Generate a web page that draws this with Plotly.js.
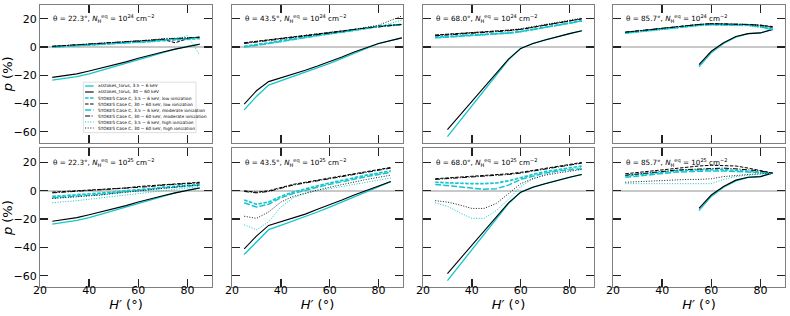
<!DOCTYPE html>
<html>
<head>
<meta charset="utf-8">
<script src="https://cdn.plot.ly/plotly-3.0.1.min.js"></script>
<style>html,body{margin:0;padding:0;background:#fff}#chart{width:790px;height:316px}</style>
</head>
<body>
<div id="chart"></div>
<script>
// ---------------- DATA ----------------
const H = [25,30,35,40,45,50,55,60,65,70,75,80,85];
const H_b = [25,30,35,40,45,50,55,60,65,70,75,80,89.5];
const H30 = [30,35,40,45,50,55,60,65,70,75,80,85];
const H55 = [55,60,65,70,75,80,85];

const seriesNames = [
  "xsstokes_torus, 3.5 − 6 keV",
  "xsstokes_torus, 30 − 60 keV",
  "STOKES Case C, 3.5 − 6 keV, low ionization",
  "STOKES Case C, 30 − 60 keV, low ionization",
  "STOKES Case C, 3.5 − 6 keV, moderate ionization",
  "STOKES Case C, 30 − 60 keV, moderate ionization",
  "STOKES Case C, 3.5 − 6 keV, high ionization",
  "STOKES Case C, 30 − 60 keV, high ionization"
];
const thetas = ["22.3", "43.5", "68.0", "85.7", "22.3", "43.5", "68.0", "85.7"];
const columnDensityExp = ["24", "24", "24", "24", "25", "25", "25", "25"];
const xTicks = [20, 40, 60, 80];
const yTicks = [-60, -40, -20, 0, 20];

// Panel A: theta 22.3, 1e24
const a_xsSoft = [-23.5,-22.5,-21,-19,-16.5,-14,-11,-8.5,-6,-3.5,-1.5,0.5,2];
const a_xsHard = [-21.5,-20.5,-19,-17,-15,-12.5,-10.5,-8,-5.5,-3.5,-1.5,0.5,2];
const a_lowSoft = [0,0.5,1,1.5,2,2.5,3,3,3.5,4.5,5,5.5,6];
const a_lowHard = [0.5,1,1.5,2,2.5,3,3.5,3.5,4.5,5.5,3,6,7];
const a_modSoft = [0,0.5,1,1.5,2,2.5,3,3,4,5,5.5,6,6.5];
const a_modHard = [0.5,1,1.5,2,2.5,3,3.5,4,4.5,5.5,6,6.5,7];
const a_highSoft = [-0.5,0.5,1,1.5,2,2.5,3,3,4,5,5.5,8,-5.5];
const a_highHard = [0.5,1,1.5,2,2.5,3,3.5,4,5,6,6,6.5,7];

// Panel B: theta 43.5, 1e24
const b_xsSoft = [-44.5,-35,-27,-24,-21,-18,-14.5,-11.5,-8,-4.5,-1,2.5,6.5];
const b_xsHard = [-40.5,-31,-24.5,-22,-19.5,-16.5,-13.5,-10.5,-7,-3.5,-0.5,2.5,6.5];
const b_lowSoft = [0.5,1.5,3,4.5,6,7,8.5,9.5,11,12,13.5,14.5,16];
const b_lowHard = [3,4,5,6,7,8,9,10,11.5,12.5,13.5,15,16];
const b_modSoft = [0,1,2.5,4,5.5,7,8,9.5,10.5,12,13,14.5,16];
const b_modHard = [2.5,3.5,4.5,5.5,7,8,9,10,11,12.5,13.5,14.5,16];
const b_highSoft = [0,1,2,3.5,5,6.5,8,9,10.5,11.5,13,14.5,19];
const b_highHard = [3,4,5,6,7,8,9,10,11.5,12.5,14,15.5,22];

// Panel C: theta 68.0, 1e24
const c_xsSoft = [-63.5,-52.5,-41.5,-30.5,-19.5,-9,-1,2.5,5,7.5,9.5,11.5];
const c_xsHard = [-58.5,-48.5,-38.5,-28.5,-18.5,-8.5,-1,2.5,5,7.5,9.5,11.5];
const c_lowSoft = [7,7.5,7.5,8,8.5,9.5,10,11,12.5,14,15.5,17.5,18.5];
const c_lowHard = [8.5,9,9.5,10,10.5,11,11.5,12.5,14,15.5,17,19,20];
const c_modSoft = [6.5,7,7.5,8,8.5,9,10,11,12.5,14,15.5,17,18.5];
const c_modHard = [8,8.5,9,9.5,10,11,11.5,12.5,14,15.5,17,18.5,20];
const c_highSoft = [6.5,7,7,7.5,8,9,9.5,10.5,12,13.5,15,17,19];
const c_highHard = [8.5,9,9.5,10,10.5,11,12,13,14.5,16,17.5,19.5,20.5];

// Panel D: theta 85.7, 1e24
const d_xsSoft = [-14,-4,2.5,7,9.5,10,12.5];
const d_xsHard = [-12.5,-3,3,7.5,9.5,10,12.5];
const d_lowSoft = [10,11,12,13,14,15,15.5,16,16,16,15.5,14.5,12.5];
const d_lowHard = [10.5,11.5,12.5,13.5,14.5,15.5,16,16.5,16.5,16.5,16,15.5,14.5];
const d_modSoft = [10,11,12,13,14,14.5,15.5,16,16,16,15.5,14.5,12.5];
const d_modHard = [10.5,11.5,12.5,13.5,14.5,15.5,16,16.5,16.5,16.5,16,15.5,14];
const d_highSoft = [9.5,10.5,11.5,12.5,13.5,14.5,15,15.5,15.5,15.5,15,14,12];
const d_highHard = [10.5,11.5,12.5,13.5,14.5,15,16,16.5,16.5,16.5,16,15,14];

// Panel E: theta 22.3, 1e25
const e_xsSoft = [-23.5,-22.5,-21,-19,-16.5,-14,-11,-8.5,-6,-3.5,-1.5,0.5,2];
const e_xsHard = [-21.5,-20.5,-19,-17,-15,-12.5,-10.5,-8,-5.5,-3.5,-1.5,0.5,2];
const e_lowSoft = [-4,-3.5,-3,-2.5,-1.5,-1,0,0.5,1.5,2.5,3,4,4.5];
const e_lowHard = [-1,-0.5,0,0.5,1,1.5,2,3,3.5,4.5,5,5.5,6];
const e_modSoft = [-5,-4.5,-4,-3,-2.5,-1.5,-0.5,0,1,2,2.5,3.5,4];
const e_modHard = [-1.5,-1,-0.5,0,0.5,1,1.5,2.5,3,4,4.5,5,5.5];
const e_highSoft = [-8.5,-8,-7,-6,-5,-4,-3,-2,-1,0.5,1.5,2.5,3];
const e_highHard = [-5.5,-5,-4.5,-3.5,-3,-2,-1,0,1,2,2.5,3.5,4];

// Panel F: theta 43.5, 1e25
const f_xsSoft = [-45,-36,-27.5,-24.5,-21.5,-18.5,-15,-11.5,-8,-4,-0.5,3,6.5];
const f_xsHard = [-41,-32,-24.5,-22,-19.5,-16.5,-13,-10,-6.5,-3,0,3,6.5];
const f_lowSoft = [-6.5,-9.5,-8,-4,-1,1.5,3.5,5.5,7.5,9.5,11,12.5,14];
const f_lowHard = [0,-1,0,2.5,4.5,6,7.5,9,10.5,12,13.5,15,16.5];
const f_modSoft = [-8.5,-11.5,-9.5,-5,-2,0.5,2.5,4.5,6.5,8.5,10,11.5,13];
const f_modHard = [-0.5,-1.5,-0.5,2,4,5.5,7,8.5,10,11.5,13,14.5,16];
const f_highSoft = [-24,-27.5,-22,-11.5,-5,-2,0,1.5,3,4.5,6,7.5,9];
const f_highHard = [-18,-19.5,-15,-8,-4,-1.5,0.5,2.5,4.5,6.5,8,9.5,11];

// Panel G: theta 68.0, 1e25
const g_xsSoft = [-63.5,-52.5,-41.5,-30.5,-19.5,-9,-1,2.5,5,7.5,9.5,11.5];
const g_xsHard = [-58.5,-48.5,-38.5,-28.5,-18.5,-8.5,-1,2.5,5,7.5,9.5,11.5];
const g_lowSoft = [6,5.5,5,5,5,5.5,7,9.5,11.5,13.5,15,16.5,17.5];
const g_lowHard = [8.5,9,9.5,10,10.5,11,12,13,14.5,16,17.5,19,20];
const g_modSoft = [4.5,3.5,2.5,1.5,1,1.5,4,8,10.5,12.5,14,15,15.5];
const g_modHard = [8,8.5,9,9.5,10,10.5,11.5,12.5,14,15.5,17,18.5,19.5];
const g_highSoft = [-8.5,-11,-15.5,-19.5,-19.5,-14,-6,3,8.5,11.5,13.5,15.5,16.5];
const g_highHard = [-7,-8,-10,-12.5,-12.5,-9,-2,5,8.5,11,12.5,14,15];

// Panel H: theta 85.7, 1e25
const h_xsSoft = [-14,-4,2.5,7,9.5,10,12.5];
const h_xsHard = [-12.5,-3,3,7.5,9.5,10,12.5];
const h_lowSoft = [10.5,11.5,12.5,13.5,14,14.5,15,15,15,14.5,14,13.5,12.5];
const h_lowHard = [12,13,14,15,16,17,17.5,18,18,17.5,16,14.5,12.5];
const h_modSoft = [9.5,10.5,11.5,12.5,13,13.5,14,14,14,13.5,13.5,13,12.5];
const h_modHard = [11,12,13,14,14.5,15,15.5,16,16,15.5,15,14,12.5];
const h_highSoft = [5,5,5.5,5.5,5.5,5.5,5,5,8,10,11,11.5,12.5];
const h_highHard = [6,6.5,7,7,7.5,8,8,8.5,10,11,11.5,12,12.5];

// ---------------- BUILD ----------------
const panels = [
  {xs: H,   cl: H,   s: [a_xsSoft,a_xsHard,a_lowSoft,a_lowHard,a_modSoft,a_modHard,a_highSoft,a_highHard]},
  {xs: H_b, cl: H_b, s: [b_xsSoft,b_xsHard,b_lowSoft,b_lowHard,b_modSoft,b_modHard,b_highSoft,b_highHard]},
  {xs: H30, cl: H,   s: [c_xsSoft,c_xsHard,c_lowSoft,c_lowHard,c_modSoft,c_modHard,c_highSoft,c_highHard]},
  {xs: H55, cl: H,   s: [d_xsSoft,d_xsHard,d_lowSoft,d_lowHard,d_modSoft,d_modHard,d_highSoft,d_highHard]},
  {xs: H,   cl: H,   s: [e_xsSoft,e_xsHard,e_lowSoft,e_lowHard,e_modSoft,e_modHard,e_highSoft,e_highHard]},
  {xs: H,   cl: H,   s: [f_xsSoft,f_xsHard,f_lowSoft,f_lowHard,f_modSoft,f_modHard,f_highSoft,f_highHard]},
  {xs: H30, cl: H,   s: [g_xsSoft,g_xsHard,g_lowSoft,g_lowHard,g_modSoft,g_modHard,g_highSoft,g_highHard]},
  {xs: H55, cl: H,   s: [h_xsSoft,h_xsHard,h_lowSoft,h_lowHard,h_modSoft,h_modHard,h_highSoft,h_highHard]}
];

const CYAN = '#12c6cf';
const styles = [
  {color: CYAN,   dash: 'solid',             width: 1.3},
  {color: '#000', dash: 'solid',             width: 1.1},
  {color: CYAN,   dash: '3.5px,1.5px',       width: 1.7},
  {color: '#000', dash: '3.5px,1.5px',       width: 1.0},
  {color: CYAN,   dash: '6px,2px',           width: 1.5},
  {color: '#000', dash: '5px,1.5px,1px,1.5px', width: 1.0},
  {color: CYAN,   dash: '1px,1.6px',         width: 1.0},
  {color: '#000', dash: '1px,1.6px',         width: 0.9}
];

const W = 790, HT = 316;
const colPx = [[40,212],[232,403],[423,594],[613,785]];
const rowPx = [[4.7,143],[148.3,287]];
const FONT = 'DejaVu Sans, sans-serif';

const traces = [];
const layout = {
  width: W, height: HT,
  margin: {l:0, r:0, t:0, b:0},
  paper_bgcolor: '#fff', plot_bgcolor: '#fff',
  showlegend: false,
  font: {family: FONT, size: 11, color: '#000'},
  annotations: [], shapes: []
};

panels.forEach((p, i) => {
  const n = i + 1;
  const suf = n === 1 ? '' : String(n);
  const row = i < 4 ? 0 : 1, col = i % 4;
  const xd = [colPx[col][0] / W, colPx[col][1] / W];
  const yd = [1 - rowPx[row][1] / HT, 1 - rowPx[row][0] / HT];
  const common = {
    showline: true, mirror: 'ticks', linecolor: '#7f7f7f', linewidth: 1,
    ticks: 'inside', ticklen: 8, tickwidth: 1.3, tickcolor: '#222',
    showgrid: false, fixedrange: true,
    tickfont: {family: FONT, size: 11, color: '#000'}
  };
  const xa = Object.assign({}, common, {
    domain: xd, anchor: 'y' + suf, range: [20, 90],
    tickvals: xTicks, showticklabels: row === 1, zeroline: false,
    ticklabelstandoff: -7
  });
  if (row === 1) xa.title = {text: '<i>H′</i> (°)', font: {family: FONT, size: 13}, standoff: 0};
  layout['xaxis' + suf] = xa;
  const ya = Object.assign({}, common, {
    domain: yd, anchor: 'x' + suf, range: [-68, 30],
    tickvals: yTicks, showticklabels: col === 0,
    zeroline: true, zerolinecolor: '#c8c8c8', zerolinewidth: 1.5
  });
  if (col === 0) ya.title = {text: '<i>p</i> (%)', font: {family: FONT, size: 13}, standoff: 1};
  layout['yaxis' + suf] = ya;
  p.s.forEach((vals, k) => {
    const st = styles[k];
    traces.push({
      type: 'scatter', mode: 'lines',
      x: k < 2 ? p.xs : p.cl, y: vals,
      name: seriesNames[k],
      xaxis: 'x' + suf, yaxis: 'y' + suf,
      line: {color: st.color, dash: st.dash, width: st.width},
      hoverinfo: 'skip'
    });
  });
  layout.annotations.push({
    xref: 'x' + suf + ' domain', yref: 'y' + suf + ' domain',
    x: 0.065, y: 0.897, xanchor: 'left', yanchor: 'middle', showarrow: false,
    text: 'θ = ' + thetas[i] + '°, <i>N</i><sub>H</sub><sup>eq</sup> = 10<sup>' + columnDensityExp[i] + '</sup> cm<sup>−2</sup>',
    font: {family: FONT, size: 7.2, color: '#000'}
  });
});

// Custom compact legend in first panel
const lgX0 = 0.252, lgX1 = 0.907, lgY0 = 0.075, lgY1 = 0.44;
layout.shapes.push({
  type: 'rect', xref: 'x domain', yref: 'y domain', layer: 'above',
  x0: lgX0, x1: lgX1, y0: lgY0, y1: lgY1,
  line: {color: '#d5d5d5', width: 0.8}, fillcolor: 'rgba(255,255,255,0.85)'
});
seriesNames.forEach((nm, k) => {
  const yPx = 86 + 6 * k;
  const yv = (143 - yPx) / (143 - 4.7);
  const st = styles[k];
  layout.shapes.push({
    type: 'line', xref: 'x domain', yref: 'y domain', layer: 'above',
    x0: 0.262, x1: 0.312, y0: yv, y1: yv,
    line: {color: st.color, dash: st.dash, width: st.width}
  });
  layout.annotations.push({
    xref: 'x domain', yref: 'y domain', x: 0.328, y: yv,
    xanchor: 'left', yanchor: 'middle', showarrow: false,
    text: nm, font: {family: FONT, size: 4.3, color: '#000'}
  });
});

Plotly.newPlot('chart', traces, layout, {displayModeBar: false, staticPlot: true});
</script>
</body>
</html>
